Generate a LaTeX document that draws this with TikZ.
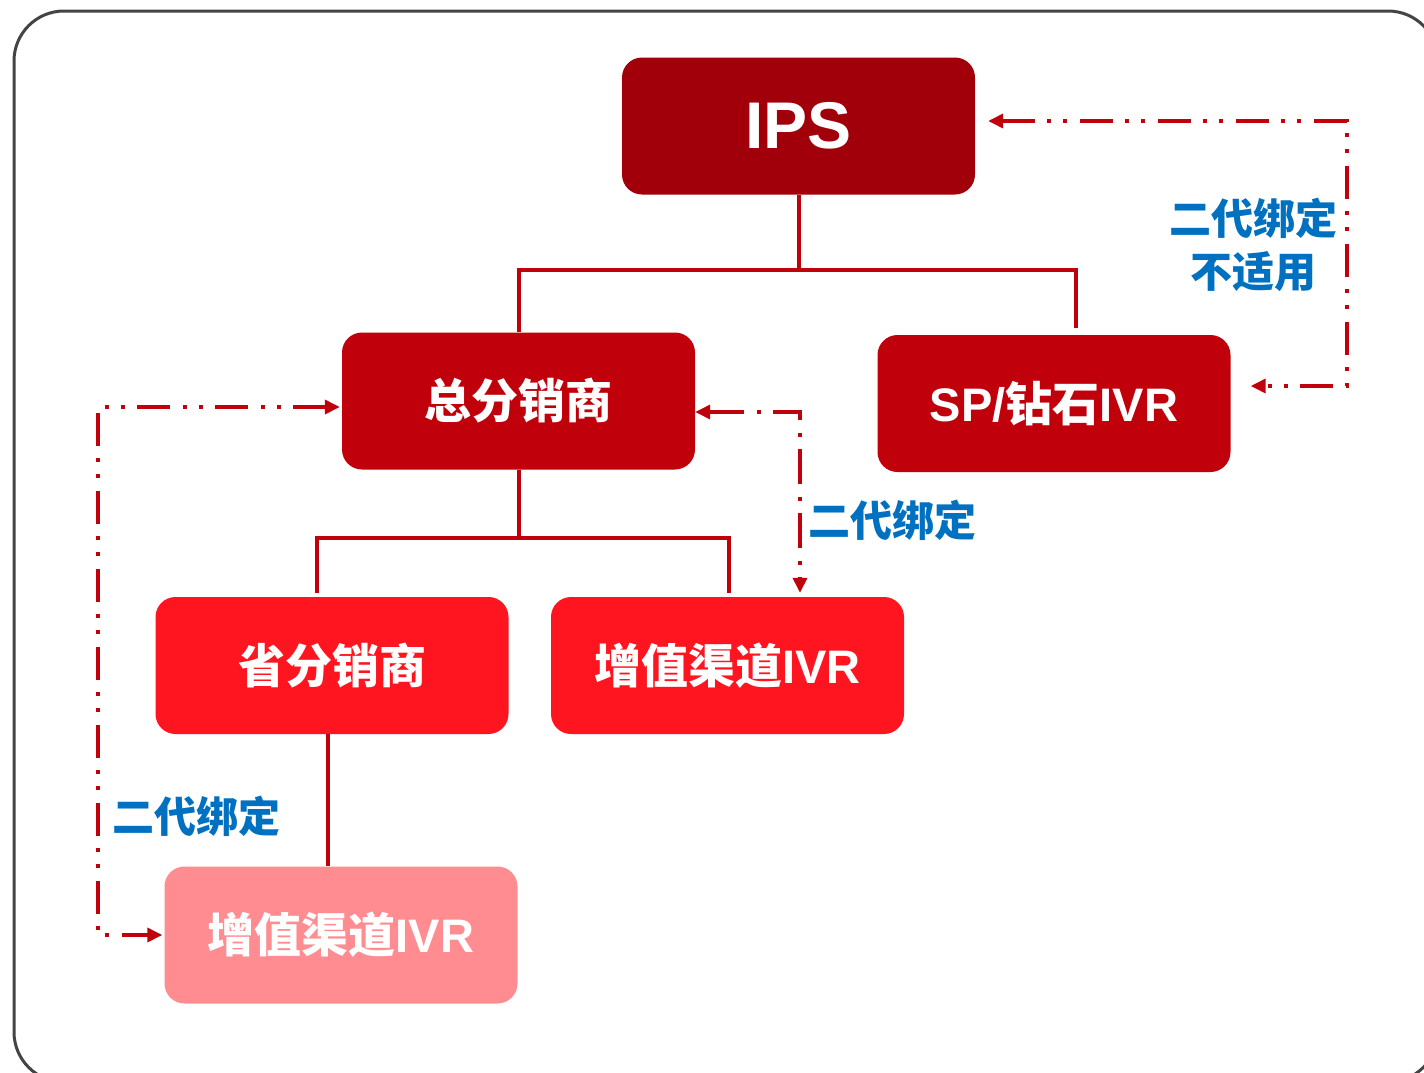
\documentclass[tikz,border=0pt]{standalone}
\usepackage{fontspec}
\setmainfont{Liberation Sans}
\newfontfamily\cjk{Noto Sans CJK SC}
\usetikzlibrary{arrows.meta}
\definecolor{ipsred}{HTML}{A1000A}
\definecolor{midred}{HTML}{C0000B}
\definecolor{brightred}{HTML}{FF1520}
\definecolor{pinkred}{HTML}{FF8C90}
\definecolor{lblue}{HTML}{0070C0}
\definecolor{frame}{HTML}{444444}
\tikzset{
  box/.style={rectangle, rounded corners=20pt, inner sep=0pt, text=white,
    minimum width=353pt, minimum height=137pt, font=\bfseries\fontsize{47}{50}\selectfont},
  tree/.style={draw=midred, line width=4pt},
  ddot/.style={draw=midred, line width=3.5pt,
    dash pattern=on 33pt off 12pt on 4pt off 12pt on 4pt off 13pt,
    arrows={Triangle[length=15pt,width=14pt]-Triangle[length=15pt,width=14pt]}},
  dsingle/.style={draw=midred, line width=3.5pt,
    dash pattern=on 35pt off 13pt on 4pt off 12pt,
    arrows={Triangle[length=15pt,width=14pt]-Triangle[length=15pt,width=14pt]}},
  lbl/.style={text=lblue, font=\cjk\bfseries\fontsize{42}{53}\selectfont, inner sep=0pt, align=center}
}
\begin{document}
\begin{tikzpicture}[x=1pt,y=-1pt]
\useasboundingbox (0,0) rectangle (1424,1072);
\fill[white] (0,0) rectangle (1424,1072);
\draw[frame, line width=3pt, rounded corners=50pt] (14,11) rectangle (1438,1082);

\node[box, fill=ipsred, font=\bfseries\fontsize{66}{70}\selectfont] (ips) at (798.5,126) {IPS};
\node[box, fill=midred] (zong) at (518.5,401) {\cjk 总分销商};
\node[box, fill=midred] (sp) at (1054,403.5) {SP/{\cjk 钻石}IVR};
\node[box, fill=brightred] (sheng) at (332,665.5) {\cjk 省分销商};
\node[box, fill=brightred] (ivra) at (727.5,665.5) {{\cjk 增值渠道}IVR};
\node[box, fill=pinkred] (ivrb) at (341,935) {{\cjk 增值渠道}IVR};

% tree connectors
\coordinate (h1) at (798.5,270);
\draw[tree] (ips.south) -- (h1);
\draw[tree] (zong.north) -- (zong.north |- h1) -- (1076,270) -- ([xshift=22pt,yshift=7pt]sp.north);
\coordinate (h2) at (518.5,538);
\draw[tree] (zong.south) -- (h2);
\draw[tree] ([yshift=4pt]sheng.north -| 317,0) -- (317,538) -- (729,538) -- ([yshift=4pt]ivra.north -| 729,0);
\draw[tree] (sheng.south -| 328,0) -- (ivrb.north -| 328,0);

% dashed binding arrows
\coordinate (c1) at (1347,121);
\draw[ddot] ([shift={(13pt,5pt)}]ips.east) -- (c1) |- ([shift={(20pt,17.5pt)}]sp.east);
\coordinate (c2) at (800,412);
\draw[dsingle] ([yshift=-11pt]zong.east) -- (c2) -- ([yshift=4pt]c2 |- ivra.north);
\coordinate (c3) at (98,407);
\draw[ddot] ([shift={(-2pt,-6pt)}]zong.west) -- (c3) |- ([xshift=-2pt]ivrb.west);

% labels
\node[lbl] (l1) at (1253,245) {二代绑定\\不适用};
\node[lbl, anchor=west] (l2) at (808,520) {二代绑定};
\node[lbl, anchor=west] (l3) at (112,816) {二代绑定};
\end{tikzpicture}
\end{document}
